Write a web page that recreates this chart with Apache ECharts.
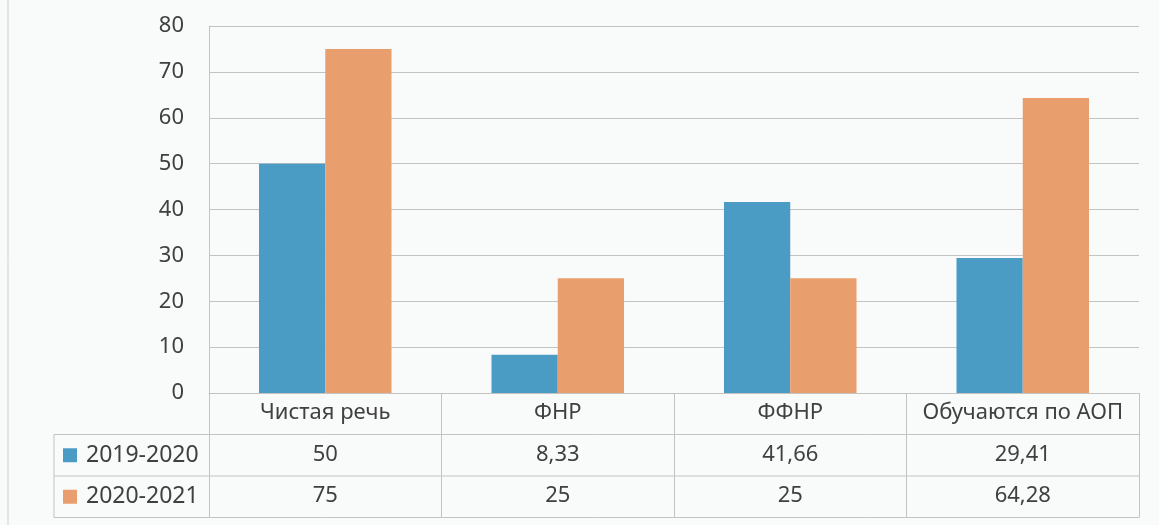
<!DOCTYPE html>
<html>
<head>
<meta charset="utf-8">
<script src="https://cdn.jsdelivr.net/npm/echarts@6/dist/echarts.min.js"></script>
<style>
html,body{margin:0;padding:0;background:#f9fafa;}
#c{width:1159px;height:525px;}
</style>
</head>
<body>
<div id="c"></div>
<script>
const categories = ['Чистая речь', 'ФНР', 'ФФНР', 'Обучаются по АОП'];
const seriesNames = ['2019-2020', '2020-2021'];
const values2019 = [50, 8.33, 41.66, 29.41];
const values2020 = [75, 25, 25, 64.28];
const yTicks = { min: 0, max: 80, interval: 10 };

const colors = ['#4b9cc4', '#e99f6d'];
const textColor = '#404040';
const lineColor = '#c3c3c3';
const font = '"Noto Sans", "Open Sans", sans-serif';
const fmt = v => String(v).replace('.', ',');

const G = { left: 209, right: 20, top: 26, bottom: 132 };
const W = 1159, H = 525;
const axisY = H - G.bottom;       // 393
const rowH = 41.5;
const row1 = axisY + rowH;
const row2 = axisY + 2 * rowH;
const row3 = axisY + 3 * rowH;
const tableLeft = 54;
const gridRight = W - G.right;

const chart = echarts.init(document.getElementById('c'), null, { renderer: 'canvas' });

const rowAxis = (data, offset) => ({
  type: 'category', data: data, gridIndex: 0, position: 'bottom', offset: offset,
  axisLine: { show: false }, axisTick: { show: false }, splitLine: { show: false },
  axisLabel: { interval: 0, margin: 9, color: textColor, fontSize: 22, fontFamily: font }
});

const legendRows = seriesNames.map((n, i) => {
  const cy = axisY + rowH * (i + 1.5);
  return [
    { type: 'rect', shape: { x: 63, y: cy - 7, width: 14, height: 14 }, style: { fill: colors[i] } },
    { type: 'text', x: 86, y: cy, style: { text: n, fill: textColor, font: '23px ' + font, textVerticalAlign: 'middle', verticalAlign: 'middle' } }
  ];
}).flat();

const hLine = (y) => ({ type: 'line', shape: { x1: tableLeft, y1: y, x2: gridRight, y2: y }, style: { stroke: lineColor, lineWidth: 1 } });

chart.setOption({
  backgroundColor: '#f9fafa',
  animation: false,
  grid: { left: G.left, right: G.right, top: G.top, bottom: G.bottom, containLabel: false },
  xAxis: [
    {
      type: 'category', data: categories,
      axisLine: { show: true, lineStyle: { color: lineColor, width: 1 } },
      axisTick: { show: true, length: row3 - axisY, interval: 0, lineStyle: { color: lineColor } },
      axisLabel: { interval: 0, margin: 9, color: textColor, fontSize: 22, fontFamily: font },
      splitLine: { show: false }
    },
    rowAxis(values2019.map(fmt), rowH),
    rowAxis(values2020.map(fmt), 2 * rowH)
  ],
  yAxis: {
    type: 'value', min: yTicks.min, max: yTicks.max, interval: yTicks.interval,
    axisLine: { show: true, lineStyle: { color: lineColor } },
    axisTick: { show: false },
    axisLabel: { margin: 25, color: textColor, fontSize: 22, fontFamily: font },
    splitLine: { show: true, lineStyle: { color: lineColor, width: 1 } }
  },
  series: [
    { name: seriesNames[0], type: 'bar', data: values2019, itemStyle: { color: colors[0] }, barGap: '0%', barCategoryGap: '43%' },
    { name: seriesNames[1], type: 'bar', data: values2020, itemStyle: { color: colors[1] }, barGap: '0%', barCategoryGap: '43%' }
  ],
  graphic: [
    hLine(row1), hLine(row2), hLine(row3),
    { type: 'line', shape: { x1: tableLeft, y1: row1, x2: tableLeft, y2: row3 }, style: { stroke: lineColor, lineWidth: 1 } },
    { type: 'line', shape: { x1: 8, y1: 0, x2: 8, y2: H }, style: { stroke: '#d0d0d0', lineWidth: 1 } },
    ...legendRows
  ]
});
</script>
</body>
</html>
